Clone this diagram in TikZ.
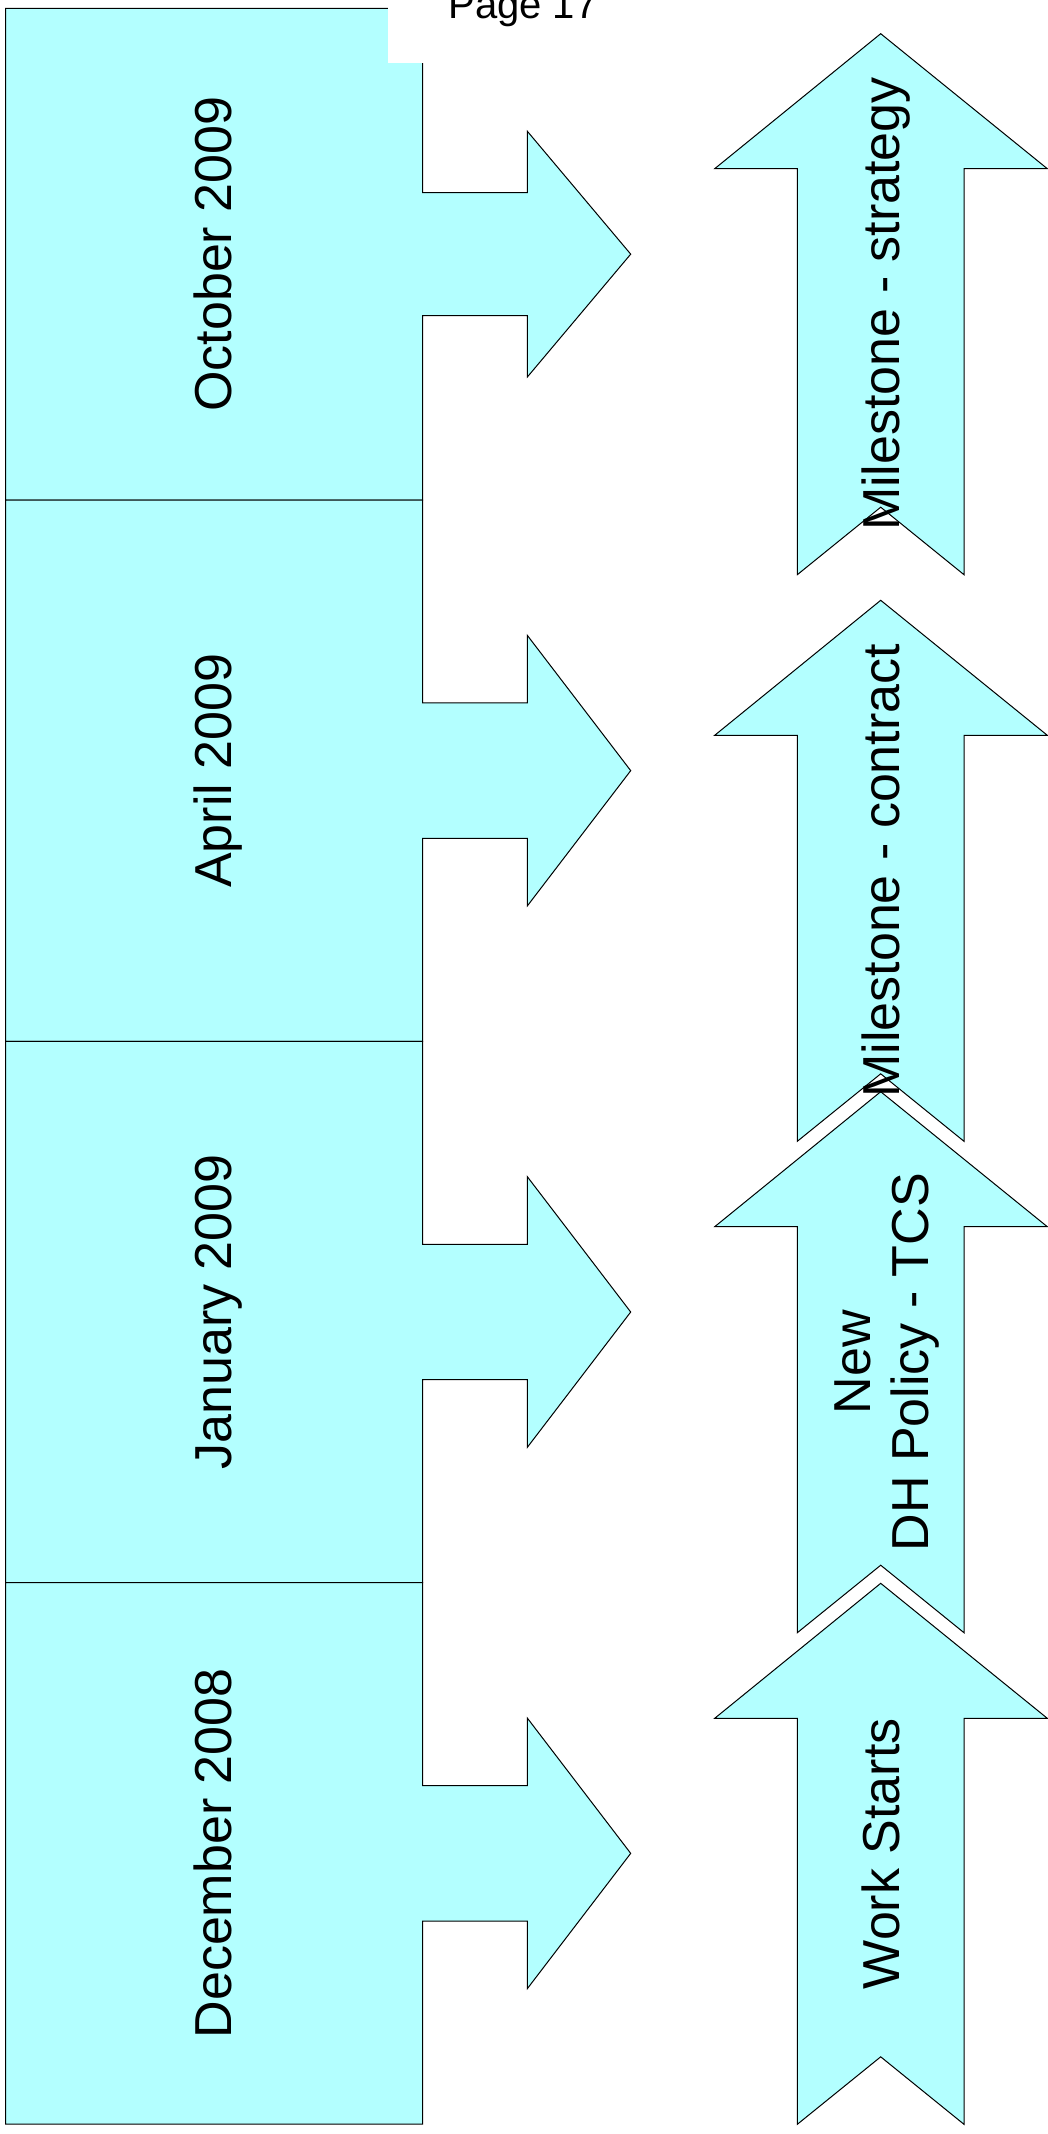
\documentclass[tikz,border=0pt]{standalone}
\usepackage{fontspec}
\setmainfont{Liberation Sans}
\definecolor{cyanfill}{HTML}{B3FFFF}
\begin{document}
\begin{tikzpicture}[x=0.5pt,y=-0.5pt,
  shapeline/.style={draw=black, line width=0.5pt, fill=cyanfill, line join=miter},
  vlabel/.style={rotate=90, anchor=base, inner sep=0pt, font=\fontsize{26}{29.15}\selectfont, align=center},
  pagelabel/.style={anchor=base, inner sep=0pt, font=\fontsize{20}{24}\selectfont}]
\useasboundingbox (0,0) rectangle (1048,2134);

% left timeline blocks with right-pointing arrows
\foreach \t/\b/\n/\lbl in {8.3/500/oct/October 2009, 500/1041.3/apr/April 2009, 1041.3/1582.7/jan/January 2009, 1582.7/2124/dec/December 2008} {
  \pgfmathsetmacro\c{(\t+\b)/2}
  \pgfmathsetmacro\h{\b-\t}
  \draw[shapeline] (5.5,\t) -- (422.7,\t) -- (422.7,{\c-\h/8}) -- (527.3,{\c-\h/8})
    -- (527.3,{\c-\h/4}) -- (630.7,\c) -- (527.3,{\c+\h/4}) -- (527.3,{\c+\h/8})
    -- (422.7,{\c+\h/8}) -- (422.7,\b) -- (5.5,\b) -- cycle;
  \node[vlabel] (\n) at (231,\c) {\lbl};
}

% white patch and page number
\fill[white] (388,0) rectangle (658,62.7);
\node[pagelabel] (pg) at (523,19) {Page 17};

% right upward arrows
\foreach \tp/\n in {33.7/strat, 600.3/contr, 1091.7/dh, 1583.3/work} {
  \draw[shapeline] (880.7,\tp) -- (1047.3,{\tp+135}) -- (964,{\tp+135}) -- (964,{\tp+541})
    -- (880.7,{\tp+473.5}) -- (797.3,{\tp+541}) -- (797.3,{\tp+135}) -- (714.7,{\tp+135}) -- cycle;
}
\node[vlabel] (stratlbl) at (899,304) {Milestone - strategy};
\node[vlabel] (contrlbl) at (899,870.8) {Milestone - contract};
\node[vlabel] (dhlbl) at (928.3,1362.2) {New\\DH Policy - TCS};
\node[vlabel] (worklbl) at (899,1853.8) {Work Starts};
\end{tikzpicture}
\end{document}
